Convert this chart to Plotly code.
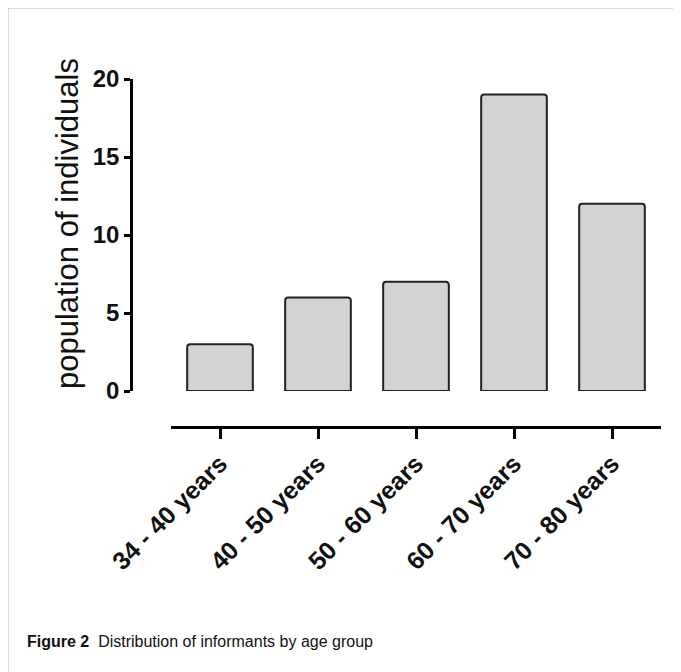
import plotly.graph_objects as go

categories = ["34 - 40 years", "40 - 50 years", "50 - 60 years", "60 - 70 years", "70 - 80 years"]
counts = [3, 6, 7, 19, 12]
y_ticks = [0, 5, 10, 15, 20]
y_title = "population of individuals"
caption_bold = "Figure 2"
caption_text = "Distribution of informants by age group"

# the page adds an 8px body margin; coordinates below are in window pixels
OFF = 8
W, H = 681, 672
L, T = 131 - OFF, 79 - OFF
R = W - (661 - OFF)
B = H - (427 - OFF)
pw, ph = W - L - R, H - T - B

def px(x):
    return (x - OFF - L) / pw

def py(y):
    return 1 - (y - OFF - T) / ph

fig = go.Figure()
fig.add_trace(go.Bar(
    x=categories, y=counts,
    marker=dict(color="#d3d3d3", line=dict(color="#222222", width=2), cornerradius=3),
    width=0.67,
))

font = "Liberation Sans, Arial, sans-serif"
fig.update_layout(
    width=W, height=H,
    margin=dict(l=L, r=R, t=T, b=B),
    paper_bgcolor="white", plot_bgcolor="white",
    showlegend=False,
    xaxis=dict(
        domain=[px(171), 1], range=[-0.5, 4.5],
        anchor="free", position=0,
        showline=True, linecolor="black", linewidth=3,
        ticks="outside", ticklen=10, tickwidth=2.5, tickcolor="black",
        tickangle=-45, showgrid=False, zeroline=False,
        tickfont=dict(family=font, size=25, color="#111111", weight="bold"),
    ),
    yaxis=dict(
        domain=[py(391), 1], range=[0, 20],
        anchor="free", position=0,
        showline=True, linecolor="black", linewidth=2.5,
        ticks="outside", ticklen=6, tickwidth=2.5, tickcolor="black",
        tickvals=y_ticks, showgrid=False, zeroline=False,
        tickfont=dict(family=font, size=24, color="#111111", weight="bold"),
    ),
    annotations=[
        dict(text=y_title, x=px(67), y=py(224), xref="paper", yref="paper",
             showarrow=False, textangle=-90, xanchor="center", yanchor="middle",
             font=dict(family=font, size=31, color="#111111")),
        dict(text="<b>" + caption_bold + "</b>  " + caption_text,
             x=px(25), y=py(641), xref="paper", yref="paper",
             showarrow=False, xanchor="left", yanchor="middle",
             font=dict(family=font, size=16, color="#111111")),
    ],
    shapes=[
        dict(type="line", xref="paper", yref="paper", x0=px(8), x1=px(681 + OFF), y0=py(8), y1=py(8),
             line=dict(color="#c8c8f4", width=1.5)),
        dict(type="line", xref="paper", yref="paper", x0=px(8), x1=px(8), y0=py(8), y1=py(672 + OFF),
             line=dict(color="#c8c8f4", width=1.5)),
    ],
)

fig.write_html("out.html")
